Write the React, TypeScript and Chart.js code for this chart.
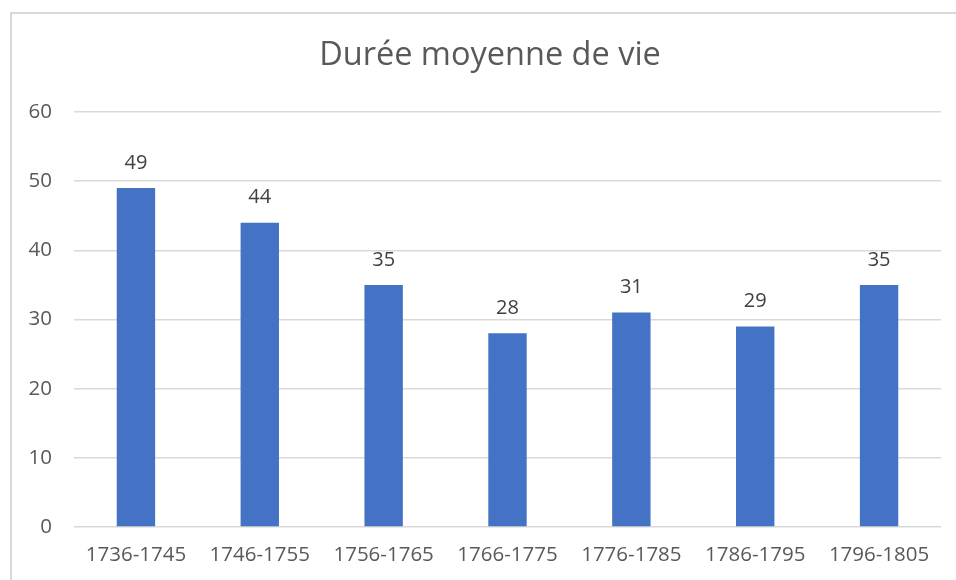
import React, { useEffect, useRef } from "react";
import { Chart, registerables } from "chart.js";

Chart.register(...registerables);

const categories = ["1736-1745", "1746-1755", "1756-1765", "1766-1775", "1776-1785", "1786-1795", "1796-1805"];
const values = [49, 44, 35, 28, 31, 29, 35];
const chartTitle = "Durée moyenne de vie";
const FONT = "'Open Sans', 'Noto Sans', sans-serif";

const labelPlugin = {
  id: "barLabels",
  afterDatasetsDraw(chart: any) {
    const ctx = chart.ctx;
    const meta = chart.getDatasetMeta(0);
    ctx.save();
    ctx.fillStyle = "#404040";
    ctx.font = `20px ${FONT}`;
    ctx.textAlign = "center";
    ctx.textBaseline = "middle";
    meta.data.forEach((bar: any, i: number) => {
      ctx.fillText(String(chart.data.datasets[0].data[i]), bar.x, bar.y - 25);
    });
    ctx.restore();
  },
};

const titlePlugin = {
  id: "customTitle",
  afterDraw(chart: any) {
    const ctx = chart.ctx;
    ctx.save();
    ctx.fillStyle = "#595959";
    ctx.font = `32.5px ${FONT}`;
    ctx.textAlign = "center";
    ctx.textBaseline = "middle";
    ctx.fillText(chartTitle, 490, 56);
    ctx.restore();
  },
};

export default function App() {
  const ref = useRef<HTMLCanvasElement>(null);
  useEffect(() => {
    if (!ref.current) return;
    const chart = new Chart(ref.current, {
      type: "bar",
      data: {
        labels: categories,
        datasets: [
          {
            data: values,
            backgroundColor: "#4472C4",
            barPercentage: 0.31,
            categoryPercentage: 1,
          },
        ],
      },
      options: {
        animation: false,
        responsive: false,
        layout: { padding: { top: 112, right: 15, bottom: 0, left: 0 } },
        plugins: { legend: { display: false }, title: { display: false }, tooltip: { enabled: false } },
        scales: {
          x: {
            grid: { display: false, drawTicks: false },
            border: { display: false },
            ticks: { color: "#595959", font: { family: FONT, size: 20.5 }, padding: 16, maxRotation: 0 },
            afterFit(scale: any) {
              scale.height = 53;
            },
          },
          y: {
            min: 0,
            max: 60,
            ticks: { stepSize: 10, color: "#595959", font: { family: FONT, size: 20.5 }, padding: 22 },
            grid: { color: "#d9d9d9", lineWidth: 1.5, drawTicks: false },
            border: { display: false },
            afterFit(scale: any) {
              scale.width = 74;
            },
          },
        },
      },
      plugins: [labelPlugin, titlePlugin],
    });
    return () => chart.destroy();
  }, []);
  return (
    <div style={{ position: "fixed", left: 0, top: 0, width: 956, height: 580, background: "#fff", overflow: "hidden" }}>
      <div
        style={{
          position: "absolute",
          left: 10,
          top: 12,
          width: 960,
          height: 580,
          border: "2px solid #d9d9d9",
          boxSizing: "border-box",
        }}
      />
      <canvas ref={ref} width={956} height={580} style={{ position: "absolute", left: 0, top: 0 }} />
    </div>
  );
}
